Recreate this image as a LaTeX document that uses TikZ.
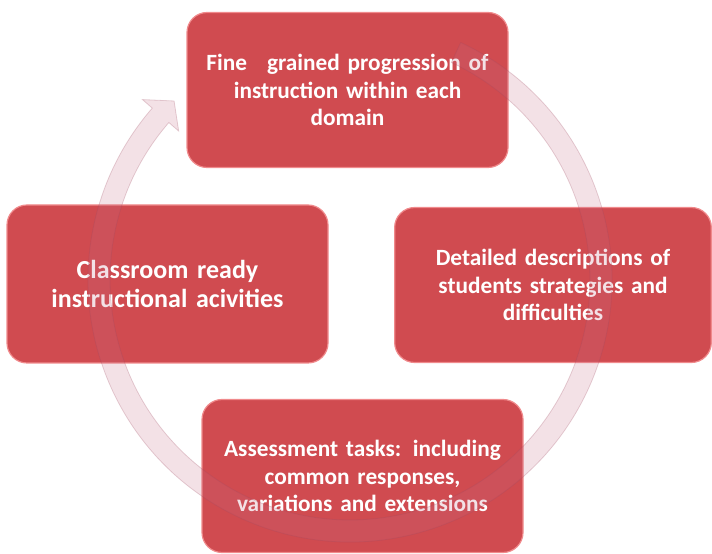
\documentclass[tikz,border=0pt]{standalone}
\usepackage{fontspec}
\setmainfont{Carlito}
\usetikzlibrary{positioning}

\definecolor{boxin}{HTML}{D04B50}
\definecolor{boxout}{HTML}{F05C5E}
\definecolor{boxrim}{HTML}{F08A8C}
\definecolor{ringfill}{HTML}{C46A84}
\definecolor{ringline}{HTML}{9E4A60}
\pgfdeclareradialshading{boxglow}{\pgfpoint{0bp}{0bp}}{color(0bp)=(boxin); color(38bp)=(boxin); color(50bp)=(boxout); color(72bp)=(boxout)}

\begin{document}
\begin{tikzpicture}[x = 1pt, y = 1pt,
  stage/.style = {shape = rectangle, rounded corners = 20pt, shading = boxglow, draw = boxrim, line width = 1.2pt,
    minimum width = 321pt, minimum height = 155pt, text width = 310pt, align = center,
    text = white, font = \bfseries\fontsize{23.3}{27.5}\selectfont},
  cycle/.style = {fill = ringfill, fill opacity = 0.2, draw = ringline, draw opacity = 0.25, line width = 0.8pt}]
\useasboundingbox (0,0) rectangle (712,554);
\coordinate (ctr) at (350,274);

\node[stage] (10) at (347.5,464) {Fine\hspace{20pt}grained progression of\\ instruction within each\\ domain};
\node[stage, minimum height = 158pt, font = \bfseries\fontsize{26}{29.5}\selectfont] (11) at (167.5,270) {Classroom ready\\ instructional acivities};
\node[stage, minimum width = 316pt] (12) at (553,269) {Detailed descriptions of\\ students strategies and\\ difficulties};
\node[stage, minimum height = 153pt] (13) at (362.5,78) {Assessment tasks: including\\ common responses,\\ variations and extensions};

% circular arrow round the four stages
\begin{scope}[shift = {(ctr)}]
\path[cycle] (65:262) arc[start angle = 65, end angle = -221, radius = 262]
  -- (-221:275) -- (-225.5:251) -- (-221:227) -- (-221:240)
  arc[start angle = -221, end angle = 65, radius = 240] -- cycle;
\end{scope}
\end{tikzpicture}
\end{document}
